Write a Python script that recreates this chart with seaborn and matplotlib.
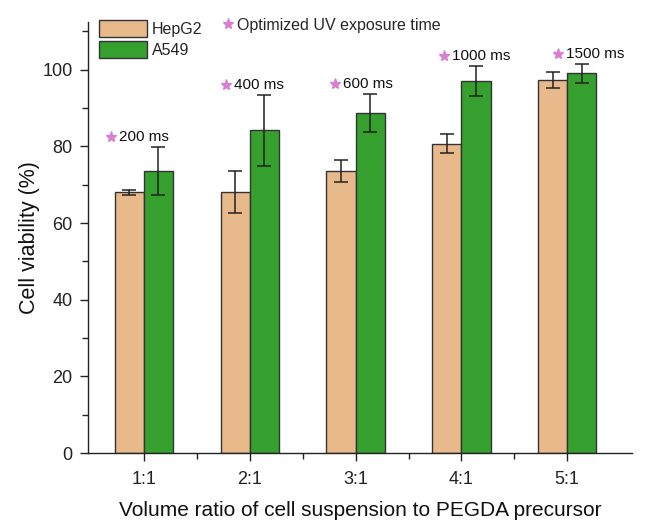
import matplotlib
matplotlib.use("Agg")
import matplotlib.pyplot as plt
from matplotlib.ticker import MultipleLocator, FixedLocator
from matplotlib.patches import Patch
from matplotlib.lines import Line2D
import numpy as np
import pandas as pd
import seaborn as sns

ratios = ["1:1", "2:1", "3:1", "4:1", "5:1"]
hepg2_mean = [68.0, 68.2, 73.5, 80.7, 97.3]
hepg2_err = [0.7, 5.5, 2.9, 2.5, 2.0]
a549_mean = [73.5, 84.2, 88.8, 97.1, 99.1]
a549_err = [6.3, 9.3, 5.0, 4.0, 2.5]
uv_time = ["200 ms", "400 ms", "600 ms", "1000 ms", "1500 ms"]

lines = ["HepG2", "A549"]
colors = {"HepG2": "#E8B98B", "A549": "#35A02E"}
star_color = "#D77FD0"

df = pd.DataFrame({
    "ratio": ratios * 2,
    "line": ["HepG2"] * len(ratios) + ["A549"] * len(ratios),
    "viability": hepg2_mean + a549_mean,
    "err": hepg2_err + a549_err,
})

sns.set_style("ticks")
plt.rcParams["font.family"] = ["Liberation Sans", "DejaVu Sans"]

fig = plt.figure(figsize=(6.46, 5.21), dpi=100)
ax = fig.add_axes([0.136, 0.1305, 0.842, 0.8275])

sns.barplot(data=df, x="ratio", y="viability", hue="line", hue_order=lines,
            order=ratios, palette=colors, width=0.55, gap=0, errorbar=None,
            edgecolor="#333333", linewidth=1.0, saturation=1, legend=False, ax=ax)

# error bars at the centre of each drawn bar
bars = [p for p in ax.patches if p.get_height() > 0]
for i, line in enumerate(lines):
    sub = df[df["line"] == line].reset_index(drop=True)
    group = bars[i * len(ratios):(i + 1) * len(ratios)]
    xs = [b.get_x() + b.get_width() / 2 for b in group]
    ax.errorbar(xs, sub["viability"], yerr=sub["err"], fmt="none",
                ecolor="#222222", elinewidth=1.1, capsize=5, capthick=1.1, zorder=5)

# UV exposure time labels above each group
star_dx = [-0.31, -0.22, -0.19, -0.16, -0.085]
for k, (m, e, t) in enumerate(zip(a549_mean, a549_err, uv_time)):
    y = m + e + 2.6
    ax.plot(k + star_dx[k], y, marker="*", color=star_color, markersize=8,
            linestyle="none", zorder=6, clip_on=False)
    ax.text(k + star_dx[k] + 0.07, y, t, fontsize=11, va="center", ha="left",
            color="#111111")

ax.set_xlim(-0.53, 4.61)
ax.set_ylim(0, 112.5)
ax.yaxis.set_major_locator(MultipleLocator(20))
ax.yaxis.set_minor_locator(MultipleLocator(10))
ax.xaxis.set_minor_locator(FixedLocator([0.5, 1.5, 2.5, 3.5]))
ax.tick_params(axis="both", which="major", direction="out", length=6, width=1,
               labelsize=13, colors="#222222", pad=5)
ax.tick_params(axis="x", which="major", pad=7)
ax.tick_params(axis="both", which="minor", direction="out", length=4, width=1,
               colors="#222222")
for s in ["top", "right"]:
    ax.spines[s].set_visible(False)
for s in ["left", "bottom"]:
    ax.spines[s].set_color("#222222")
    ax.spines[s].set_linewidth(1.0)

ax.set_xlabel("Volume ratio of cell suspension to PEGDA precursor", fontsize=15,
              labelpad=9, color="#111111")
ax.set_ylabel("Cell viability (%)", fontsize=15.5, labelpad=2, color="#111111")

handles = [Patch(facecolor=colors[l], edgecolor="#333333", linewidth=1.0, label=l)
           for l in lines]
leg1 = ax.legend(handles=handles, loc="upper left", bbox_to_anchor=(0.0, 1.03),
                 frameon=False, fontsize=11.5, handlelength=3.0, handleheight=1.2,
                 handletextpad=0.3, labelspacing=0.3, borderaxespad=0.3)
ax.add_artist(leg1)
star_handle = Line2D([], [], marker="*", color=star_color, linestyle="none",
                     markersize=8, label="Optimized UV exposure time")
ax.legend(handles=[star_handle], loc="upper left", bbox_to_anchor=(0.228, 1.035),
          frameon=False, fontsize=11.5, handlelength=0.6, handletextpad=0.3,
          borderaxespad=0.3)

fig.savefig("out.png", dpi=100)
